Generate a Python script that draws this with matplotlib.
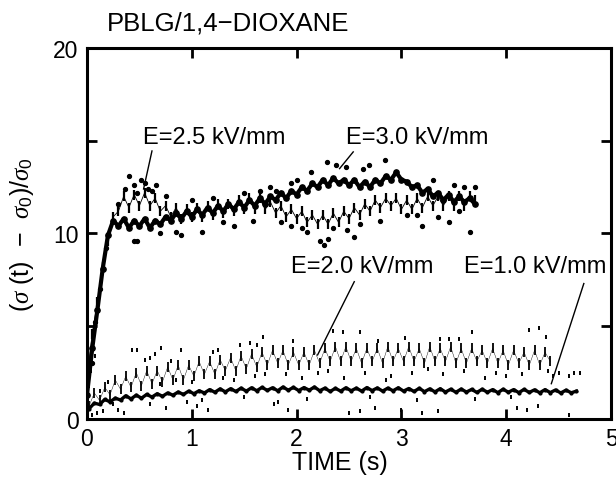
import matplotlib
matplotlib.use("Agg")
import matplotlib.pyplot as plt
import numpy as np

plt.rcParams['font.family'] = ['Liberation Sans', 'DejaVu Sans']
plt.rcParams['mathtext.fontset'] = 'custom'
plt.rcParams['mathtext.rm'] = 'Liberation Sans'
plt.rcParams['mathtext.it'] = 'Liberation Serif:italic'

# sampling of the recorded traces (start time, step in s)
t0_10, dt = 0.02, 0.05
t0_20 = 0.02
t0_25 = 0.0
t0_30 = 0.0

# E = 1.0 kV/mm
e10 = [0.55, 0.85, 0.78, 1.05, 0.92, 1.12, 1.02, 1.25, 1.08, 1.28,
       1.12, 1.32, 1.18, 1.36, 1.22, 1.40, 1.28, 1.45, 1.32, 1.50,
       1.36, 1.52, 1.40, 1.58, 1.44, 1.62, 1.46, 1.63, 1.48, 1.66,
       1.50, 1.68, 1.52, 1.70, 1.54, 1.68, 1.52, 1.72, 1.55, 1.70,
       1.53, 1.69, 1.55, 1.72, 1.52, 1.66, 1.48, 1.65, 1.50, 1.68,
       1.52, 1.66, 1.50, 1.69, 1.53, 1.67, 1.50, 1.66, 1.52, 1.68,
       1.50, 1.64, 1.48, 1.65, 1.47, 1.62, 1.46, 1.63, 1.45, 1.60,
       1.44, 1.61, 1.45, 1.59, 1.43, 1.60, 1.44, 1.58, 1.42, 1.60,
       1.44, 1.58, 1.42, 1.59, 1.43, 1.57, 1.41, 1.58, 1.42, 1.56,
       1.40, 1.55, 1.41, 1.50]

# E = 2.0 kV/mm
e20 = [0.7, 1.4, 1.0, 1.7, 1.3, 2.1, 1.6, 2.3, 1.7, 2.5,
       1.8, 2.6, 1.9, 2.6, 2.0, 2.8, 2.1, 2.9, 2.1, 2.9,
       2.3, 3.1, 2.4, 3.1, 2.4, 3.2, 2.6, 3.3, 2.6, 3.4,
       2.7, 3.5, 2.8, 3.6, 2.9, 3.7, 3.0, 3.7, 2.9, 3.6,
       2.9, 3.6, 2.9, 3.7, 3.0, 3.8, 3.1, 3.9, 3.1, 3.9,
       3.1, 3.8, 3.0, 3.8, 3.1, 3.8, 3.0, 3.9, 3.1, 3.8,
       3.1, 3.9, 3.1, 3.8, 3.0, 3.9, 3.1, 3.8, 3.1, 3.9,
       3.0, 3.8, 3.0, 3.8, 3.1, 3.7, 3.0, 3.8, 3.0, 3.7,
       2.9, 3.7, 3.0, 3.6, 2.9, 3.7, 2.9, 3.6, 3.1]

# E = 2.5 kV/mm
e25 = [2.2, 4.6, 6.3, 8.2, 9.6, 10.9, 11.2, 12.0, 11.4, 12.1,
       11.5, 12.2, 11.5, 11.9, 11.2, 11.5, 10.9, 11.4, 10.8, 11.3,
       10.9, 11.4, 10.9, 11.5, 11.0, 11.6, 11.1, 11.6, 11.2, 11.8,
       11.3, 11.9, 11.3, 11.9, 11.3, 11.7, 11.1, 11.5, 10.9, 11.3,
       10.8, 11.2, 10.6, 11.0, 10.5, 11.0, 10.5, 11.1, 10.6, 11.2,
       10.8, 11.4, 11.0, 11.6, 11.2, 11.8, 11.4, 11.9, 11.5, 11.9,
       11.3, 11.8, 11.3, 11.9, 11.4, 12.0, 11.5, 12.0, 11.5, 12.0,
       11.5, 12.0, 11.5, 12.0, 11.8]

# E = 3.0 kV/mm
e30 = [1.3, 3.8, 5.9, 8.1, 9.9, 10.7, 10.4, 10.8, 10.3, 10.7,
       10.4, 10.8, 10.3, 10.7, 10.5, 10.9, 10.7, 11.1, 10.8, 11.2,
       10.9, 11.3, 11.0, 11.4, 11.1, 11.5, 11.2, 11.6, 11.3, 11.7,
       11.4, 11.8, 11.5, 11.9, 11.6, 12.0, 11.8, 12.2, 11.9, 12.3,
       12.1, 12.5, 12.3, 12.7, 12.5, 12.9, 12.6, 13.0, 12.7, 12.9,
       12.6, 12.9, 12.5, 12.8, 12.5, 12.9, 12.7, 13.1, 12.9, 13.3,
       12.9, 12.8, 12.5, 12.6, 12.2, 12.4, 12.0, 12.2, 11.8, 12.1,
       11.7, 12.0, 11.7, 11.9, 11.6]

# scattered points around the upper traces
up_t = [0.40, 0.45, 0.48, 0.52, 0.58, 0.62, 0.66, 0.45, 0.48, 0.85, 0.90,
        1.10, 1.20, 1.50, 1.65, 1.75, 1.95, 2.14, 2.29, 2.38, 2.47, 2.63,
        2.69, 2.84, 1.85, 1.95, 2.05, 2.10, 2.22, 2.26, 2.30, 2.48, 2.55,
        3.20, 3.35, 3.50, 3.60, 3.65, 3.70, 0.30, 0.70, 1.40, 3.05, 3.45,
        0.36, 0.55, 0.75, 1.00, 1.30, 1.58, 1.80, 2.00, 2.35, 2.60, 2.80,
        3.15, 3.30, 3.55, 0.05, 0.08, 0.12, 0.18]
up_v = [13.1, 12.6, 12.2, 12.9, 12.4, 12.3, 12.6, 9.6, 9.6, 10.1, 9.9,
        10.1, 11.9, 12.2, 12.3, 12.5, 12.7, 13.3, 13.85, 13.7, 13.6, 13.5,
        13.7, 13.98, 10.6, 10.4, 10.3, 10.1, 9.6, 9.4, 9.7, 10.2, 9.8,
        10.4, 10.9, 12.6, 12.5, 10.1, 12.5, 11.6, 10.0, 10.4, 11.0, 10.6,
        12.4, 12.7, 12.0, 11.8, 10.6, 10.7, 12.3, 12.9, 10.3, 10.5, 10.7,
        11.0, 12.9, 11.2, 3.0, 5.2, 7.0, 9.2]

# scattered points around the lower traces
lo_t = [0.43, 0.48, 0.71, 0.65, 0.90, 0.55, 0.60, 0.80, 1.46, 1.56, 1.62,
        1.20, 1.25, 0.60, 0.75, 0.95, 1.05, 1.15, 0.30, 0.10, 1.68, 1.97,
        2.35, 2.44, 2.60, 2.78, 3.03, 3.37, 1.78, 1.82, 1.92, 2.50, 2.60,
        2.75, 3.00, 3.20, 3.35, 3.67, 4.22, 4.31, 4.38, 3.45, 3.55, 4.50,
        4.60, 4.65, 4.70, 4.10, 4.20, 4.30, 4.60, 1.30, 1.60, 1.90, 2.20,
        2.45, 2.90, 3.10, 3.40, 3.80, 4.00, 0.05, 0.15, 0.25, 0.20, 0.35,
        0.70, 0.85, 1.00, 1.40, 1.70, 2.05, 2.30, 2.65, 2.85, 3.25, 3.60,
        3.90, 4.15, 4.40, 1.10, 1.50, 2.10, 2.70, 3.15, 3.70, 4.05, 4.45,
        0.02, 0.04, 0.08, 0.12]
lo_v = [3.7, 3.7, 3.8, 3.5, 3.7, 3.2, 3.3, 3.1, 4.0, 4.1, 4.0,
        3.6, 3.7, 0.8, 0.6, 0.9, 0.7, 0.5, 0.5, 0.3, 4.4, 4.2,
        4.76, 4.7, 4.7, 4.2, 4.35, 4.3, 0.8, 0.9, 0.5, 0.3, 0.4,
        0.6, 0.5, 0.3, 0.4, 4.7, 4.8, 4.9, 4.4, 4.3, 4.3, 2.5,
        2.3, 2.5, 2.5, 0.6, 0.5, 0.7, 0.2, 2.2, 2.3, 2.4, 2.5,
        2.2, 2.3, 2.5, 2.4, 2.2, 2.3, 0.2, 0.4, 0.8, 2.0, 0.3,
        1.9, 2.1, 2.0, 2.1, 2.4, 2.2, 2.6, 2.5, 2.1, 2.7, 2.6,
        2.5, 2.4, 2.6, 1.0, 1.2, 1.1, 1.2, 1.0, 1.1, 1.2, 2.3,
        1.8, 2.6, 3.4, 1.5]

labels = ['E=2.5 kV/mm', 'E=3.0 kV/mm', 'E=2.0 kV/mm', 'E=1.0 kV/mm']
label_xy = [(0.53, 15.2), (2.47, 15.2), (1.95, 8.25), (3.60, 8.25)]
pointer = [((0.62, 14.45), (0.54, 12.4)),
           ((2.54, 14.4), (2.41, 13.5)),
           ((2.55, 7.4), (2.20, 3.45)),
           ((4.74, 7.3), (4.43, 1.9))]


def times(t0, vals):
    return t0 + dt * np.arange(len(vals))


fig = plt.figure(figsize=(6.16, 4.81), dpi=100)
ax = fig.add_axes([0.1412, 0.127, 0.8508, 0.771])

ax.plot(times(t0_10, e10), e10, color='k', lw=2.4, marker='o', ms=2.0)
ax.plot(times(t0_20, e20), e20, color='k', ls='none',
        marker='|', ms=7, mew=1.3)
ax.plot(times(t0_20, e20), e20, color='k', lw=0.3)
ax.plot(times(t0_25, e25), e25, color='k', lw=0.6, marker='|', ms=7.5, mew=1.6)
ax.plot(times(t0_30, e30), e30, color='k', lw=3.0, marker='o', ms=3.8)
ax.plot(up_t, up_v, 'o', color='k', ms=2.8, ls='none')
ax.plot(lo_t, lo_v, '|', color='k', ms=3.5, mew=1.4, ls='none')

for lab, (x, y), (p1, p2) in zip(labels, label_xy, pointer):
    ax.text(x, y, lab, fontsize=17, va='center', ha='left')
    ax.plot([p1[0], p2[0]], [p1[1], p2[1]], color='k', lw=1.0)

ax.set_xlim(0, 5)
ax.set_ylim(0, 20)
ax.set_xticks([0, 1, 2, 3, 4, 5])
ax.set_yticks([0, 5, 10, 15, 20])
ax.set_yticklabels(['0', '', '10', '', '20'])
ax.tick_params(direction='in', length=7, width=2, top=True, right=True,
               labelsize=16.5, pad=6)
for s in ax.spines.values():
    s.set_linewidth(2.2)

ax.set_xlabel('TIME (s)', fontsize=18, labelpad=1)
ax.xaxis.set_label_coords(0.483, -0.085)
ax.set_ylabel(r'($\sigma$ (t)  $-$  $\sigma_{\mathrm{0}}$)/$\sigma_{\mathrm{0}}$',
              fontsize=18, labelpad=12)
fig.text(0.174, 0.952, 'PBLG/1,4\u2212DIOXANE', fontsize=18.5, va='center', ha='left')

fig.savefig('out.png', dpi=100)
